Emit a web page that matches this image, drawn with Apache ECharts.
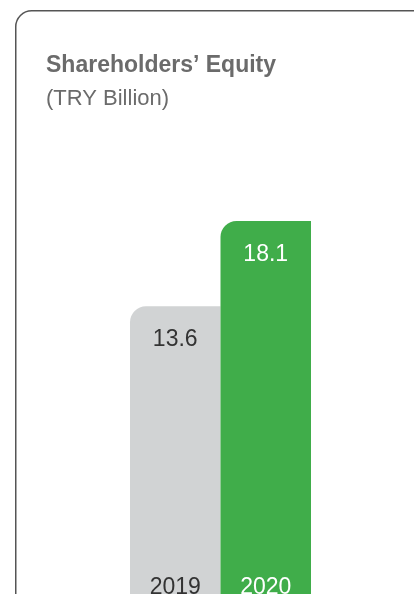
<!DOCTYPE html>
<html>
<head>
<meta charset="utf-8">
<script src="https://cdn.jsdelivr.net/npm/echarts@6/dist/echarts.min.js"></script>
<style>
html,body{margin:0;padding:0;background:#fff;}
#c{width:414px;height:594px;}
</style>
</head>
<body>
<div id="c"></div>
<script>
var categories = ['2019', '2020'];
var values = [13.6, 18.1];
var barColors = ['#d1d3d4', '#40ad4a'];
var valueLabelColors = ['#333333', '#ffffff'];
var titleText = 'Shareholders\u2019 Equity';
var subtitleText = '(TRY Billion)';
var axisMin = -1.6;
var axisMax = 18.1;

var chart = echarts.init(document.getElementById('c'), null, {renderer: 'canvas'});
var font = '"Liberation Sans", Arial, Helvetica, sans-serif';
chart.setOption({
  animation: false,
  backgroundColor: '#ffffff',
  title: [
    {text: titleText, left: 41, top: 49, padding: 5, textStyle: {fontFamily: font, fontSize: 23, fontWeight: 'bold', color: '#6b6b6b'}},
    {text: subtitleText, left: 41, top: 83, padding: 5, textStyle: {fontFamily: font, fontSize: 22, fontWeight: 'normal', color: '#6b6b6b'}}
  ],
  graphic: [{
    type: 'rect', silent: true, z: 100,
    shape: {x: 15.75, y: 10.75, width: 440, height: 640, r: 16},
    style: {fill: null, stroke: '#555555', lineWidth: 1.5}
  }],
  grid: {left: 130, right: 103, top: 221, bottom: 0, containLabel: false, outerBoundsMode: 'none'},
  xAxis: {
    type: 'category', data: categories, z: 10,
    axisLine: {show: false}, axisTick: {show: false},
    axisLabel: {
      inside: true, margin: -5, fontFamily: font, fontSize: 23,
      color: function (v, i) { return valueLabelColors[i]; }
    }
  },
  yAxis: {type: 'value', min: axisMin, max: axisMax, show: false, splitLine: {show: false}},
  series: [{
    type: 'custom',
    data: values.map(function (v, i) { return [i, v]; }),
    renderItem: function (params, api) {
      var i = api.value(0);
      var v = api.value(1);
      var top = api.coord([i, v]);
      var bottom = api.coord([i, axisMin]);
      var band = api.size([1, 0])[0];
      var x0 = top[0] - band / 2;
      return {
        type: 'group',
        children: [
          {type: 'rect', shape: {x: x0, y: top[1], width: band, height: bottom[1] - top[1], r: [16, 0, 0, 0]},
           style: {fill: barColors[i]}},
          {type: 'text', x: top[0], y: top[1] + 22,
           style: {text: v.toFixed(1), fill: valueLabelColors[i], font: '23px ' + font, align: 'center', verticalAlign: 'top'}}
        ]
      };
    }
  }]
});
</script>
</body>
</html>
